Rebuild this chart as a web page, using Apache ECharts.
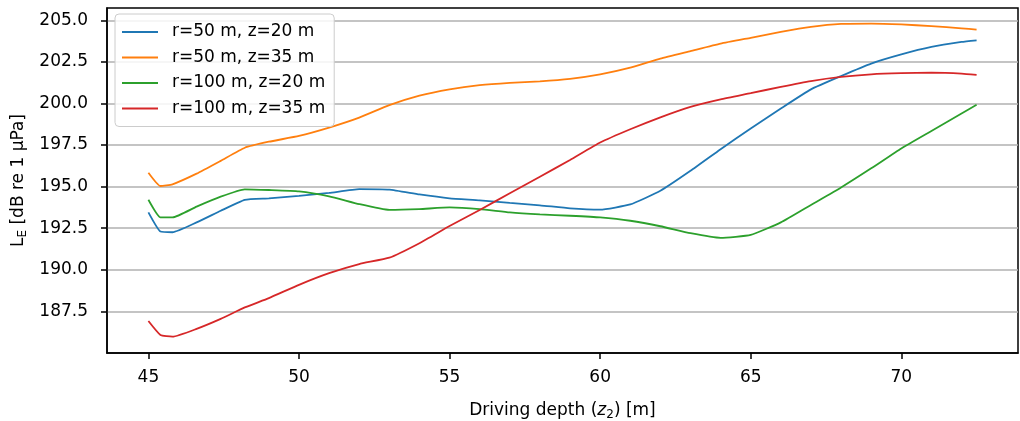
<!DOCTYPE html>
<html>
<head>
<meta charset="utf-8">
<script src="https://cdn.jsdelivr.net/npm/echarts@6/dist/echarts.min.js"></script>
<style>html,body{margin:0;padding:0;background:#fff}#c{width:1020px;height:421px}</style>
</head>
<body>
<div id="c"></div>
<script>
const depth = [45, 45.4, 45.8, 46.6, 47.4, 48.2, 49, 50, 51, 52, 53, 54, 55, 56, 57, 58, 59, 60, 61, 62, 63, 64, 65, 66, 67, 68, 69, 70, 71, 72, 72.5];
const r50z20 = [193.45, 192.3, 192.26, 192.85, 193.55, 194.21, 194.3, 194.45, 194.62, 194.85, 194.82, 194.53, 194.3, 194.18, 194.02, 193.88, 193.7, 193.62, 193.93, 194.75, 195.95, 197.25, 198.5, 199.7, 200.85, 201.65, 202.4, 202.95, 203.4, 203.7, 203.8];
const r50z35 = [195.84, 195.04, 195.14, 195.78, 196.55, 197.34, 197.7, 198.05, 198.55, 199.15, 199.9, 200.47, 200.85, 201.1, 201.24, 201.33, 201.48, 201.75, 202.15, 202.7, 203.15, 203.6, 203.95, 204.3, 204.6, 204.78, 204.8, 204.75, 204.65, 204.52, 204.44];
const r100z20 = [194.21, 193.15, 193.15, 193.8, 194.4, 194.84, 194.8, 194.72, 194.42, 193.95, 193.6, 193.65, 193.75, 193.65, 193.45, 193.33, 193.25, 193.15, 192.95, 192.62, 192.2, 191.92, 192.1, 192.85, 193.9, 194.95, 196.1, 197.3, 198.35, 199.4, 199.92];
const r100z35 = [186.92, 186.08, 185.98, 186.45, 187.05, 187.74, 188.3, 189.1, 189.8, 190.35, 190.73, 191.6, 192.63, 193.6, 194.6, 195.6, 196.6, 197.65, 198.45, 199.17, 199.8, 200.25, 200.62, 201.0, 201.35, 201.6, 201.75, 201.82, 201.85, 201.8, 201.72];
const seriesNames = ['r=50 m, z=20 m', 'r=50 m, z=35 m', 'r=100 m, z=20 m', 'r=100 m, z=35 m'];
const seriesColors = ['#1f77b4', '#ff7f0e', '#2ca02c', '#d62728'];
const xTicks = [45, 50, 55, 60, 65, 70];
const yTicks = [187.5, 190, 192.5, 195, 197.5, 200, 202.5, 205];

const allSeries = [r50z20, r50z35, r100z20, r100z35];
const FONT = 'DejaVu Sans';
const FS = 17;

const chart = echarts.init(document.getElementById('c'), null, {renderer: 'canvas'});
chart.setOption({
  animation: false,
  textStyle: {fontFamily: FONT},
  grid: {left: 107, right: 2, top: 8, bottom: 68, outerBoundsMode: 'none', containLabel: false,
    show: true, borderColor: '#000', borderWidth: 1.5, backgroundColor: 'transparent'},
  legend: {
    orient: 'vertical', left: 115, top: 14,
    padding: [8, 9, 8, 7],
    icon: 'rect',
    itemWidth: 36, itemHeight: 2, itemGap: 5.5,
    backgroundColor: 'rgba(255,255,255,0.85)',
    borderColor: '#cccccc', borderWidth: 1, borderRadius: 4,
    textStyle: {fontFamily: FONT, fontSize: FS, lineHeight: 20, color: '#000', padding: [0, 0, 0, 9]},
    data: seriesNames
  },
  xAxis: {
    type: 'value', min: 43.625, max: 73.875,
    name: 'Driving depth ({it|z}{sub|2}) [m]',
    nameLocation: 'middle', nameGap: 48,
    nameTextStyle: {fontFamily: FONT, fontSize: FS, color: '#000', rich: {
      it: {fontFamily: FONT, fontStyle: 'italic', fontSize: FS, color: '#000'},
      sub: {fontFamily: FONT, fontSize: 12, color: '#000', padding: [8, 0, 0, 0]}
    }},
    axisLine: {show: true, lineStyle: {color: '#000', width: 1.5}},
    axisTick: {show: true, customValues: xTicks, length: 6, lineStyle: {color: '#000', width: 1.5}},
    axisLabel: {customValues: xTicks, margin: 16, fontFamily: FONT, fontSize: FS, color: '#000'},
    splitLine: {show: false}
  },
  yAxis: {
    type: 'value', min: 185, max: 205.74, interval: 2.5,
    name: 'L{sub|E} [dB re 1 μPa]',
    nameLocation: 'middle', nameGap: 77, nameRotate: 90,
    nameTextStyle: {fontFamily: FONT, fontSize: FS, color: '#000', rich: {
      sub: {fontFamily: FONT, fontSize: 12, color: '#000', padding: [8, 0, 0, 0]}
    }},
    axisLine: {show: true, lineStyle: {color: '#000', width: 1.5}},
    axisTick: {show: true, customValues: yTicks, length: 6, lineStyle: {color: '#000', width: 1.5}},
    axisLabel: {customValues: yTicks, margin: 19, fontFamily: FONT, fontSize: FS, color: '#000',
      formatter: v => v.toFixed(1)},
    splitLine: {show: true, lineStyle: {color: '#b0b0b0', width: 1.5}}
  },
  series: allSeries.map((vals, i) => ({
    name: seriesNames[i], type: 'line', symbol: 'none', smooth: 0.15,
    color: seriesColors[i],
    lineStyle: {color: seriesColors[i], width: 1.8},
    data: depth.map((d, j) => [d, vals[j]])
  }))
});
</script>
</body>
</html>
